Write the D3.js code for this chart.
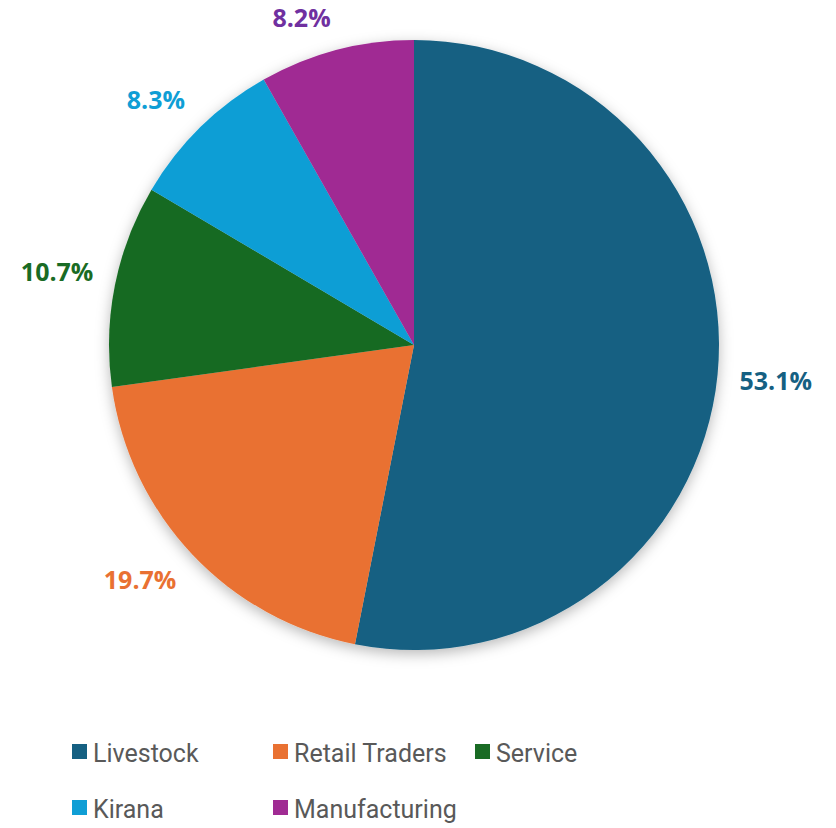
<!DOCTYPE html>
<html lang="en">
<head>
<meta charset="UTF-8">
<title>Pie</title>
<script src="https://d3js.org/d3.v7.min.js"></script>
<style>
  body { margin: 0; background: #fff; }
  svg { display: block; font-family: "Segoe UI", "Open Sans", sans-serif; }
</style>
</head>
<body>
<svg id="chart" width="836" height="828"></svg>
<script>
// data
var categories = ["Livestock", "Retail Traders", "Service", "Kirana", "Manufacturing"];
var shares = [53.1, 19.7, 10.7, 8.3, 8.2];
var sliceColors = ["#156082", "#e97132", "#196b24", "#0f9ed5", "#a02b93"];
var labelColors = ["#156082", "#e97132", "#196b24", "#0f9ed5", "#7030a0"];

var svg = d3.select("#chart"),
    width = +svg.attr("width");

var cx = 414, cy = 345, radius = 305;

// soft shadow round the pie
var defs = svg.append("defs");
var f = defs.append("filter").attr("id", "shadow")
    .attr("x", "-20%").attr("y", "-20%").attr("width", "140%").attr("height", "140%");
f.append("feDropShadow")
    .attr("dx", 0).attr("dy", 4)
    .attr("stdDeviation", 7)
    .attr("flood-color", "#000")
    .attr("flood-opacity", 0.28);

var data = categories.map(function (c, i) {
    return { name: c, value: shares[i], color: sliceColors[i], lcolor: labelColors[i] };
});

var pie = d3.pie().sort(null).value(function (d) { return d.value; });
var arcs = pie(data);

var arc = d3.arc().innerRadius(0).outerRadius(radius);

var g = svg.append("g").attr("transform", "translate(" + cx + "," + cy + ")");

g.append("g").attr("filter", "url(#shadow)")
    .selectAll("path")
    .data(arcs)
    .enter()
    .append("path")
    .attr("d", arc)
    .attr("fill", function (d) { return d.data.color; });

// labels "outside end": the box corner nearest the pie sits on the mid angle
var labelR = radius + 22, boxH = 22;
function clamp(v) { return Math.max(-1, Math.min(1, v)); }

g.selectAll("text.lbl")
    .data(arcs)
    .enter()
    .append("text")
    .attr("class", "lbl")
    .attr("text-anchor", "middle")
    .attr("dy", "0.35em")
    .style("font-size", "25px")
    .style("font-weight", "bold")
    .style("fill", function (d) { return d.data.lcolor; })
    .text(function (d) { return d.data.value.toFixed(1) + "%"; })
    .attr("transform", function (d) {
        var a = (d.startAngle + d.endAngle) / 2;
        var dx = Math.sin(a), dy = -Math.cos(a);
        var w = this.getComputedTextLength();
        var x = dx * labelR + clamp(dx * 4) * w / 2;
        var y = dy * labelR + clamp(dy * 4) * boxH / 2;
        return "translate(" + x + "," + y + ")";
    });

// legend, 3 per row
var colX = [72, 273, 475];
var rowY = d3.scalePoint().domain([0, 1]).range([744, 800]);

var legend = svg.append("g")
    .selectAll("g")
    .data(data)
    .enter()
    .append("g")
    .attr("transform", function (d, i) {
        return "translate(" + colX[i % 3] + "," + rowY(Math.floor(i / 3)) + ")";
    });

legend.append("rect")
    .attr("width", 15)
    .attr("height", 15)
    .attr("fill", function (d) { return d.color; });

legend.append("text")
    .attr("x", 21)
    .attr("y", 18)
    .style("font-family", "Roboto, sans-serif")
    .style("font-size", "25px")
    .style("fill", "#595959")
    .text(function (d) { return d.name; });
</script>
</body>
</html>
